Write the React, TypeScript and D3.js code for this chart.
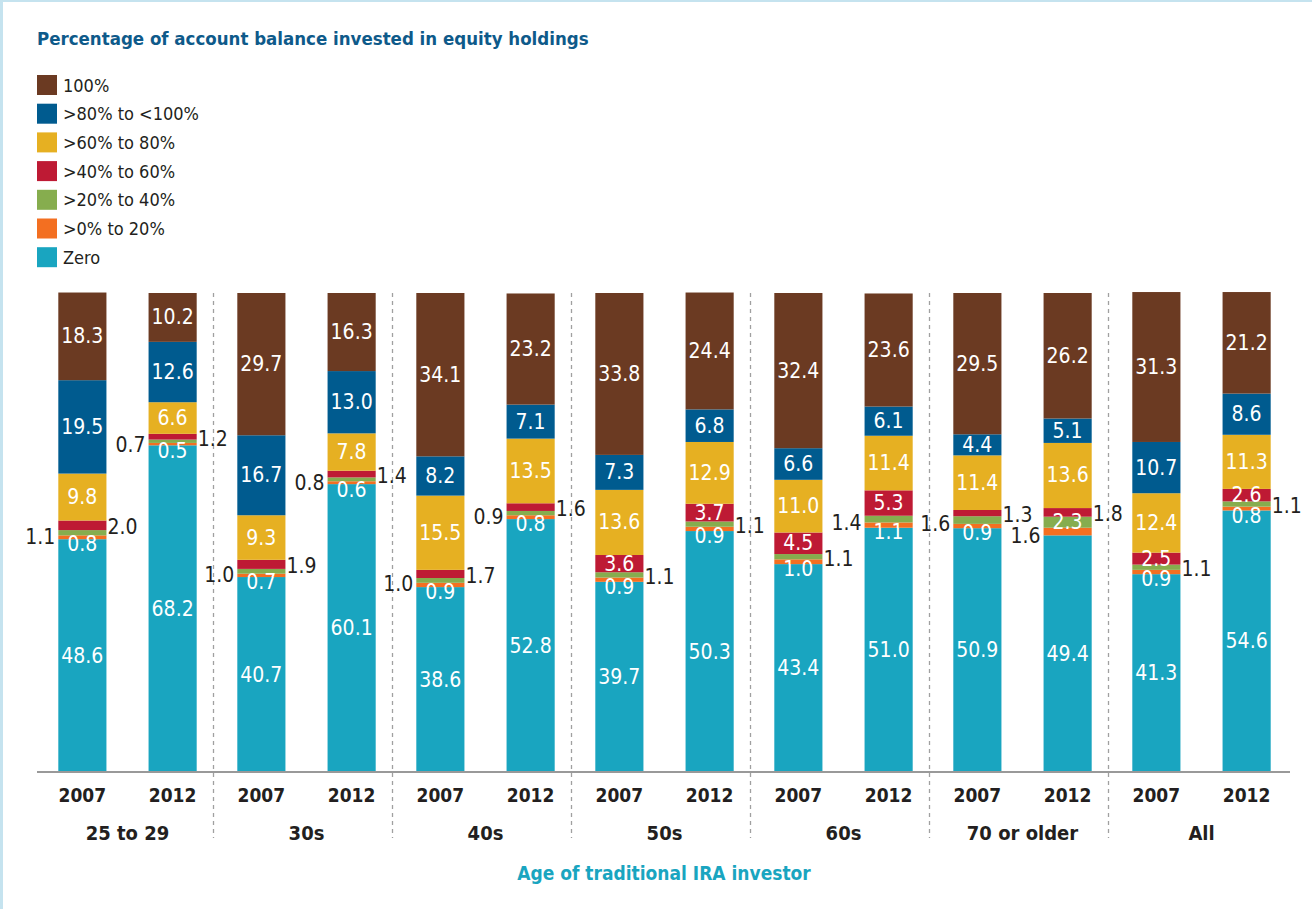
import React, { useEffect, useRef } from "react";
import * as d3 from "d3";

const groups = ["25 to 29", "30s", "40s", "50s", "60s", "70 or older", "All"];
const years = ["2007", "2012"];

// stacked from bottom to top, one value per bar (group x year)
const zero = [48.6, 68.2, 40.7, 60.1, 38.6, 52.8, 39.7, 50.3, 43.4, 51.0, 50.9, 49.4, 41.3, 54.6];
const to20 = [0.8, 0.5, 0.7, 0.6, 0.9, 0.8, 0.9, 0.9, 1.0, 1.1, 0.9, 1.6, 0.9, 0.8];
const to40 = [1.1, 0.7, 1.0, 0.8, 1.0, 0.9, 1.1, 1.1, 1.1, 1.4, 1.6, 2.3, 1.1, 1.1];
const to60 = [2.0, 1.2, 1.9, 1.4, 1.7, 1.6, 3.6, 3.7, 4.5, 5.3, 1.3, 1.8, 2.5, 2.6];
const to80 = [9.8, 6.6, 9.3, 7.8, 15.5, 13.5, 13.6, 12.9, 11.0, 11.4, 11.4, 13.6, 12.4, 11.3];
const to100 = [19.5, 12.6, 16.7, 13.0, 8.2, 7.1, 7.3, 6.8, 6.6, 6.1, 4.4, 5.1, 10.7, 8.6];
const full = [18.3, 10.2, 29.7, 16.3, 34.1, 23.2, 33.8, 24.4, 32.4, 23.6, 29.5, 26.2, 31.3, 21.2];

const seriesNames = ["Zero", ">0% to 20%", ">20% to 40%", ">40% to 60%", ">60% to 80%", ">80% to <100%", "100%"];
const seriesValues = [zero, to20, to40, to60, to80, to100, full];
const colors = ["#19a5c0", "#f36f21", "#86ad4e", "#be1a34", "#e6b022", "#005b8f", "#6b3a22"];

// where the small-segment labels sit
const to20Pos = ["below", "below", "below", "below", "below", "below", "below", "below", "below", "below", "below", "left", "below", "below"];
const to40Pos = ["left", "left", "left", "left", "left", "left", "right", "right", "right", "left", "left", "in", "right", "right"];
const to60Pos = ["right", "right", "right", "right", "right", "right", "in", "in", "in", "in", "right", "right", "in", "in"];
const positions = [null, to20Pos, to40Pos, to60Pos, null, null, null];

const FONT = "'DejaVu Sans Condensed', 'Liberation Sans Narrow', Roboto, sans-serif";

const App = () => {
  const svgRef = useRef<SVGSVGElement>(null);

  useEffect(() => {
    const width = 1312;
    const height = 909;
    const svg = d3.select(svgRef.current).attr("width", width).attr("height", height);
    svg.selectAll("*").remove();

    // frame
    svg.append("rect").attr("x", 0).attr("y", 0).attr("width", width).attr("height", 2).attr("fill", "#c5e3ef");
    svg.append("rect").attr("x", 0).attr("y", 0).attr("width", 3).attr("height", height).attr("fill", "#c5e3ef");

    svg
      .append("text")
      .attr("x", 37)
      .attr("y", 45)
      .attr("font-family", FONT)
      .attr("font-size", 18.5)
      .attr("font-weight", "bold")
      .attr("fill", "#0e5a8a")
      .text("Percentage of account balance invested in equity holdings");

    // legend
    const legendOrder = seriesNames.map((n, i) => i).reverse();
    legendOrder.forEach((si, row) => {
      const y = 75 + row * 28.7;
      svg.append("rect").attr("x", 37).attr("y", y).attr("width", 20).attr("height", 20).attr("fill", colors[si]);
      svg
        .append("text")
        .attr("x", 63)
        .attr("y", y + 10)
        .attr("dominant-baseline", "central")
        .attr("font-family", FONT)
        .attr("font-size", 18)
        .attr("fill", "#231f20")
        .text(seriesNames[si]);
    });

    const x0 = d3.scaleBand().domain(groups).range([36, 36 + 179 * 7]);
    const x1 = d3.scaleBand().domain(years).range([2, 181]).paddingInner(0.4667).paddingOuter(0.225);
    const y = d3.scaleLinear().domain([0, 100]).range([772, 293]);

    const rows = groups.flatMap((g, gi) =>
      years.map((yr, yi) => {
        const idx = gi * 2 + yi;
        const r: any = { group: g, year: yr, idx };
        seriesNames.forEach((s, si) => (r[s] = seriesValues[si][idx]));
        return r;
      })
    );
    const stack = d3.stack().keys(seriesNames)(rows as any);

    // separators
    groups.slice(1).forEach((g) => {
      const sx = (x0(g) as number) - 1.5;
      svg
        .append("line")
        .attr("x1", sx)
        .attr("x2", sx)
        .attr("y1", 293)
        .attr("y2", 838)
        .attr("stroke", "#a0a0a0")
        .attr("stroke-width", 1.3)
        .attr("stroke-dasharray", "4 4");
    });

    const bw = x1.bandwidth();
    stack.forEach((layer, si) => {
      layer.forEach((d: any) => {
        const row = d.data;
        const bx = (x0(row.group) as number) + (x1(row.year) as number);
        const yTop = y(d[1]);
        const yBot = y(d[0]);
        svg
          .append("rect")
          .attr("x", bx)
          .attr("y", yTop)
          .attr("width", bw)
          .attr("height", yBot - yTop)
          .attr("fill", colors[si]);
      });
    });

    // labels drawn after all rects
    stack.forEach((layer, si) => {
      layer.forEach((d: any) => {
        const row = d.data;
        const bx = (x0(row.group) as number) + (x1(row.year) as number);
        const yTop = y(d[1]);
        const yBot = y(d[0]);
        const mid = (yTop + yBot) / 2;
        const pos = positions[si] ? (positions[si] as string[])[row.idx] : "in";
        const val = seriesValues[si][row.idx].toFixed(1);
        const t = svg
          .append("text")
          .attr("font-family", FONT)
          .attr("font-size", 21)
          .attr("dominant-baseline", "central")
          .text(val);
        if (pos === "left") {
          t.attr("x", bx - 3).attr("y", mid + 4).attr("text-anchor", "end").attr("fill", "#231f20");
        } else if (pos === "right") {
          t.attr("x", bx + bw + 1).attr("y", mid + 2).attr("text-anchor", "start").attr("fill", "#231f20");
        } else if (pos === "below") {
          t.attr("x", bx + bw / 2).attr("y", mid + 7).attr("text-anchor", "middle").attr("fill", "#fff");
        } else {
          t.attr("x", bx + bw / 2).attr("y", mid).attr("text-anchor", "middle").attr("fill", "#fff");
        }
      });
    });

    // axis
    svg.append("line").attr("x1", 37).attr("x2", 1290).attr("y1", 772).attr("y2", 772).attr("stroke", "#999").attr("stroke-width", 2);

    rows.forEach((row) => {
      svg
        .append("text")
        .attr("x", (x0(row.group) as number) + (x1(row.year) as number) + bw / 2)
        .attr("y", 802)
        .attr("text-anchor", "middle")
        .attr("font-family", FONT)
        .attr("font-size", 19)
        .attr("font-weight", "bold")
        .attr("fill", "#231f20")
        .text(row.year);
    });
    groups.forEach((g) => {
      svg
        .append("text")
        .attr("x", (x0(g) as number) + x0.bandwidth() / 2 + 2)
        .attr("y", 840)
        .attr("text-anchor", "middle")
        .attr("font-family", FONT)
        .attr("font-size", 20)
        .attr("font-weight", "bold")
        .attr("fill", "#231f20")
        .text(g);
    });

    svg
      .append("text")
      .attr("x", 664)
      .attr("y", 880)
      .attr("text-anchor", "middle")
      .attr("font-family", FONT)
      .attr("font-size", 19)
      .attr("font-weight", "bold")
      .attr("fill", "#19a5c0")
      .text("Age of traditional IRA investor");
  }, []);

  return <svg ref={svgRef} style={{ position: "absolute", left: 0, top: 0, background: "#fff" }}></svg>;
};

export default App;
